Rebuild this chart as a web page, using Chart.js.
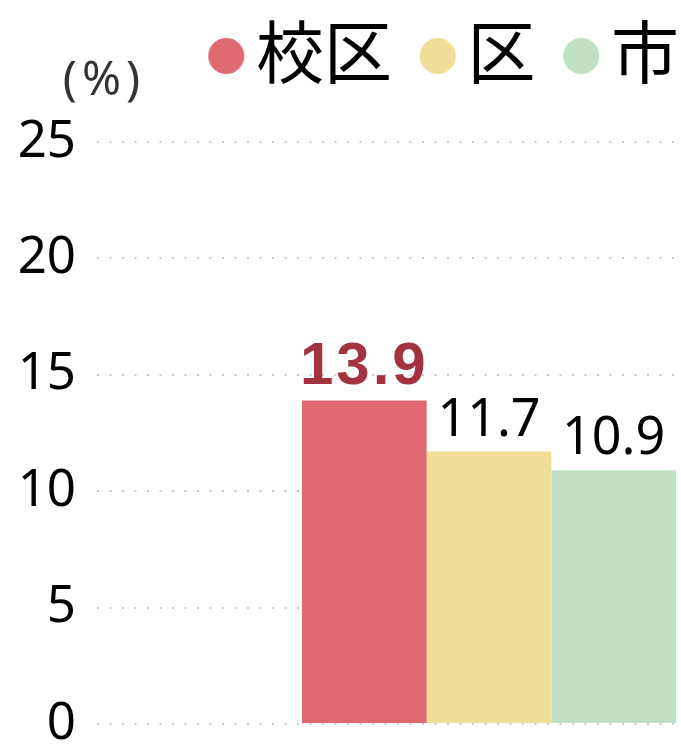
<!DOCTYPE html>
<html>
<head>
<meta charset="utf-8">
<script src="https://cdn.jsdelivr.net/npm/chart.js@4"></script>
<style>
  html, body { margin: 0; padding: 0; background: #fff; }
  #wrap { width: 681px; height: 749px; position: relative; }
</style>
</head>
<body>
<div id="wrap"><canvas id="chart-area"></canvas></div>
<script>
var categories = [''];
var seriesNames = ['校区', '区', '市'];
var seriesValues = [13.9, 11.7, 10.9];
var seriesColors = ['#df6a72', '#f0e097', '#bfe0c4'];
var yTicks = [0, 5, 10, 15, 20, 25];
var unitLabel = '(%)';

// legend dot, drawn off-centre so it sits close to its text
function makeDot(color) {
    var c = document.createElement('canvas');
    c.width = 86;
    c.height = 44;
    var g = c.getContext('2d');
    g.fillStyle = color;
    g.beginPath();
    g.arc(67, 26, 18, 0, Math.PI * 2);
    g.fill();
    return c;
}

var legendSpacer = {
    id: 'legendSpacer',
    beforeInit: function(chart) {
        var fit = chart.legend.fit;
        chart.legend.fit = function() {
            fit.call(this);
            this.height += 46;
        };
    }
};

var unitText = {
    id: 'unitText',
    afterDraw: function(chart) {
        var ctx = chart.ctx;
        ctx.save();
        ctx.font = '47px "Noto Sans"';
        ctx.fillStyle = '#333';
        ctx.textAlign = 'center';
        ctx.textBaseline = 'middle';
        ctx.letterSpacing = '5px';
        ctx.fillText(unitLabel, 104, chart.chartArea.top - 60);
        ctx.restore();
    }
};

var barLabels = {
    id: 'barLabels',
    afterDatasetsDraw: function(chart) {
        var ctx = chart.ctx;
        chart.data.datasets.forEach(function(ds, i) {
            var meta = chart.getDatasetMeta(i);
            meta.data.forEach(function(bar, j) {
                ctx.save();
                if (i === 0) {
                    ctx.font = 'bold 60px "Liberation Sans"';
                    ctx.fillStyle = '#a3333f';
                    ctx.letterSpacing = '3px';
                } else {
                    ctx.font = '52px "Noto Sans"';
                    ctx.fillStyle = '#000';
                }
                ctx.textAlign = 'center';
                ctx.textBaseline = 'alphabetic';
                ctx.fillText(ds.data[j].toFixed(1), bar.x, bar.y - 16);
                ctx.restore();
            });
        });
    }
};

var config = {
    type: 'bar',
    data: {
        labels: categories,
        datasets: seriesNames.map(function(name, i) {
            return {
                label: name,
                data: [seriesValues[i]],
                backgroundColor: seriesColors[i],
                borderWidth: 0,
                pointStyle: makeDot(seriesColors[i]),
                barPercentage: 1,
                categoryPercentage: 0.974
            };
        })
    },
    options: {
        responsive: true,
        maintainAspectRatio: false,
        animation: false,
        layout: {
            padding: { top: 16, bottom: 25, left: 0, right: 0 }
        },
        plugins: {
            legend: {
                position: 'top',
                align: 'end',
                onClick: function() {},
                labels: {
                    usePointStyle: true,
                    boxWidth: 39.5,
                    padding: 2,
                    color: '#000',
                    font: { family: '"Noto Sans CJK JP"', size: 68 }
                }
            },
            tooltip: { enabled: false }
        },
        scales: {
            x: {
                display: false
            },
            y: {
                min: 0,
                max: 25,
                afterBuildTicks: function(scale) {
                    scale.ticks = yTicks.map(function(v) { return { value: v }; });
                },
                afterFit: function(scale) {
                    scale.width = 297;
                },
                border: { display: false, dash: [2, 10.5] },
                grid: {
                    color: '#cccccc',
                    lineWidth: 2,
                    tickLength: 200,
                    tickBorderDash: [2, 10.5]
                },
                ticks: {
                    padding: 21,
                    color: '#000',
                    font: { family: '"Noto Sans"', size: 51, lineHeight: 0.1 }
                }
            }
        }
    },
    plugins: [legendSpacer, unitText, barLabels]
};

window.onload = function() {
    var ctx = document.getElementById('chart-area').getContext('2d');
    window.barChart = new Chart(ctx, config);
};
</script>
</body>
</html>
